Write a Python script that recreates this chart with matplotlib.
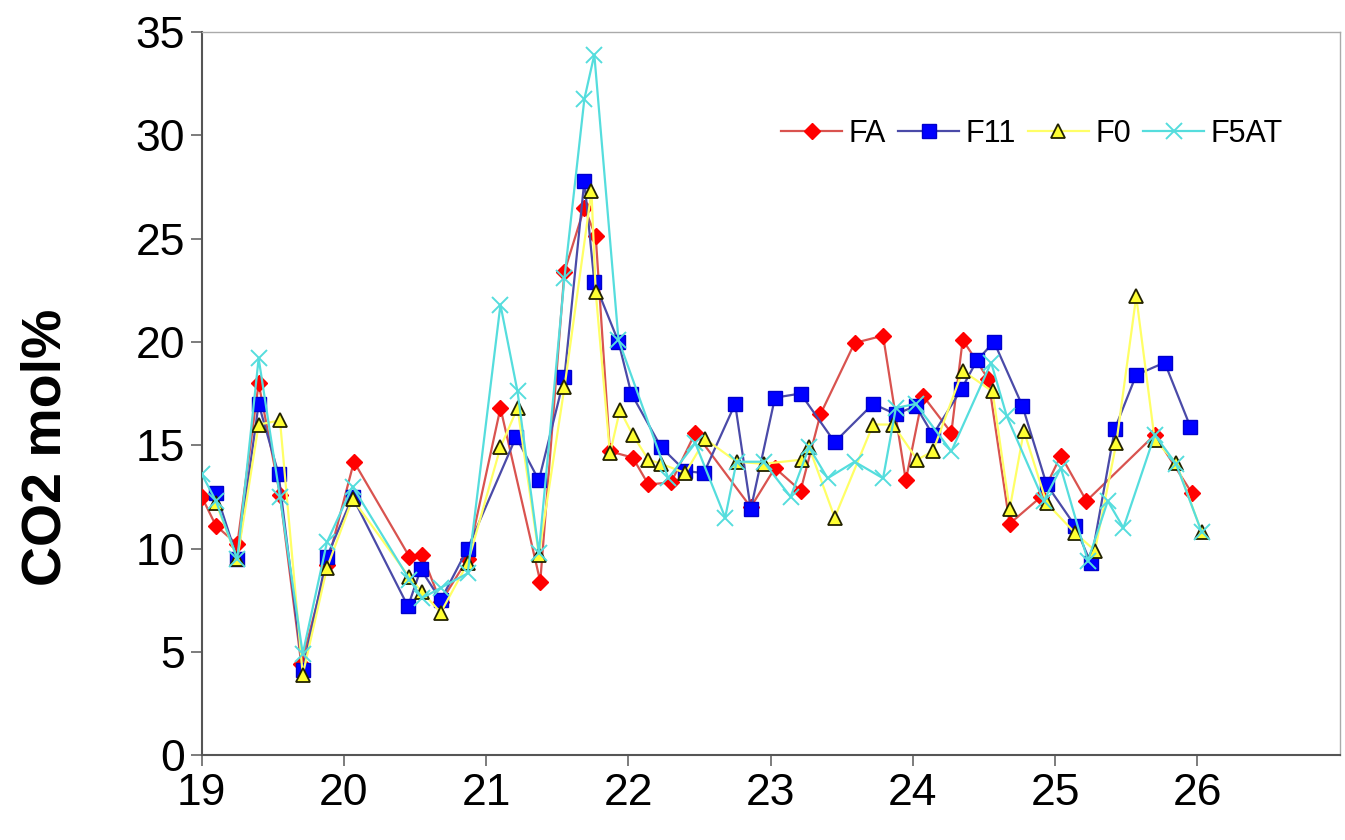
import matplotlib
matplotlib.use("Agg")
import matplotlib.pyplot as plt

plt.rcParams['font.family'] = ['Liberation Sans', 'DejaVu Sans']

# FA series (red diamonds)
fa_x = [19.0, 19.1, 19.25, 19.4, 19.55, 19.7, 19.88, 20.07, 20.46, 20.55, 20.68, 20.87,
        21.1, 21.38, 21.55, 21.69, 21.77, 21.87, 22.03, 22.14, 22.3, 22.47, 22.86, 23.03,
        23.21, 23.35, 23.59, 23.79, 23.95, 24.07, 24.27, 24.35, 24.53, 24.68, 24.9, 25.04,
        25.22, 25.7, 25.96]
fa_y = [12.5, 11.1, 10.2, 18.0, 12.6, 4.4, 9.2, 14.2, 9.6, 9.7, 7.4, 9.5,
        16.8, 8.4, 23.4, 26.5, 25.1, 14.7, 14.4, 13.1, 13.2, 15.6, 12.0, 13.9,
        12.8, 16.5, 19.95, 20.3, 13.3, 17.4, 15.6, 20.1, 18.2, 11.2, 12.5, 14.5,
        12.3, 15.5, 12.7]

# F11 series (blue squares)
f11_x = [19.1, 19.25, 19.4, 19.54, 19.71, 19.88, 20.06, 20.45, 20.54, 20.68, 20.87,
         21.21, 21.37, 21.55, 21.69, 21.76, 21.93, 22.02, 22.23, 22.4, 22.53, 22.75,
         22.86, 23.03, 23.21, 23.45, 23.72, 23.88, 24.02, 24.14, 24.34, 24.45, 24.57,
         24.77, 24.94, 25.14, 25.25, 25.42, 25.57, 25.77, 25.95]
f11_y = [12.7, 9.5, 17.0, 13.6, 4.1, 9.6, 12.5, 7.2, 9.0, 7.5, 10.0,
         15.4, 13.3, 18.3, 27.8, 22.9, 20.0, 17.5, 14.9, 13.75, 13.65, 17.0,
         11.9, 17.3, 17.5, 15.15, 17.0, 16.5, 16.9, 15.5, 17.7, 19.1, 20.0,
         16.9, 13.1, 11.1, 9.3, 15.8, 18.4, 19.0, 15.9]

# F0 series (yellow triangles)
f0_x = [19.1, 19.25, 19.4, 19.55, 19.71, 19.88, 20.06, 20.46, 20.55, 20.68, 20.87,
        21.1, 21.22, 21.37, 21.55, 21.74, 21.77, 21.87, 21.94, 22.03, 22.14, 22.23,
        22.4, 22.54, 22.76, 22.95, 23.22, 23.27, 23.45, 23.72, 23.86, 24.03, 24.14,
        24.35, 24.56, 24.68, 24.78, 24.94, 25.14, 25.28, 25.43, 25.57, 25.7, 25.85, 26.03]
f0_y = [12.2, 9.5, 16.0, 16.2, 3.9, 9.05, 12.4, 8.6, 7.9, 6.9, 9.3,
        14.9, 16.8, 9.7, 17.8, 27.3, 22.4, 14.6, 16.7, 15.5, 14.3, 14.1,
        13.65, 15.3, 14.2, 14.1, 14.3, 14.9, 11.5, 16.0, 16.0, 14.3, 14.7,
        18.6, 17.6, 11.9, 15.7, 12.2, 10.75, 9.9, 15.1, 22.2, 15.25, 14.15, 10.8]

# F5AT series (cyan crosses)
f5at_x = [19.0, 19.1, 19.25, 19.4, 19.55, 19.71, 19.88, 20.06, 20.46, 20.55, 20.68, 20.87,
          21.1, 21.22, 21.37, 21.55, 21.69, 21.76, 21.93, 22.28, 22.47, 22.68, 22.76,
          22.95, 23.14, 23.27, 23.4, 23.59, 23.79, 23.88, 24.02, 24.27, 24.55, 24.66,
          24.92, 25.04, 25.23, 25.37, 25.48, 25.7, 25.85, 26.03]
f5at_y = [13.6, 12.3, 9.5, 19.2, 12.5, 4.9, 10.3, 13.0, 8.5, 7.6, 8.1, 8.8,
          21.8, 17.6, 9.8, 23.1, 31.75, 33.9, 20.1, 13.4, 15.1, 11.5, 14.2,
          14.2, 12.5, 14.9, 13.4, 14.2, 13.4, 16.8, 17.0, 14.7, 19.0, 16.4,
          12.3, 13.9, 9.4, 12.3, 11.0, 15.5, 14.1, 10.8]

fig = plt.figure(figsize=(13.45, 8.4), dpi=100)
ax = fig.add_axes([0.150, 0.101, 0.846, 0.861])

ax.plot(fa_x, fa_y, color='#d9534f', lw=1.6, marker='D', ms=8,
        mfc='#ff0000', mec='#ff0000', label='FA', zorder=3)
ax.plot(f11_x, f11_y, color='#4a4aa8', lw=1.6, marker='s', ms=10,
        mfc='#0000ff', mec='#0000cc', label='F11', zorder=4)
ax.plot(f0_x, f0_y, color='#ffff66', lw=1.6, marker='^', ms=10,
        mfc='#ffff33', mec='#222200', mew=1.3, label='F0', zorder=5)
ax.plot(f5at_x, f5at_y, color='#55dddd', lw=1.6, marker='x', ms=11,
        mew=1.4, mec='#55dddd', label='F5AT', zorder=6)

ax.set_xlim(19, 27)
ax.set_ylim(0, 35)
ax.set_xticks(range(19, 27))
ax.set_yticks(range(0, 36, 5))
ax.tick_params(axis='both', labelsize=32, direction='out', length=8,
               width=1.2, color='#666666')
ax.tick_params(axis='y', pad=4)
ax.tick_params(axis='x', pad=5)

for side in ['left', 'bottom']:
    ax.spines[side].set_color('#555555')
    ax.spines[side].set_linewidth(1.5)
for side in ['top', 'right']:
    ax.spines[side].set_color('#aaaaaa')
    ax.spines[side].set_linewidth(1.0)

ax.set_ylabel('CO2 mol%', fontsize=40, fontweight='bold')
ax.yaxis.set_label_coords(-0.114, 0.426)

ax.legend(loc='upper right', bbox_to_anchor=(0.974, 0.918), ncol=4, frameon=False,
          fontsize=22, handlelength=2.0, columnspacing=0.4, handletextpad=0.2)

fig.savefig('out.png', dpi=100)
